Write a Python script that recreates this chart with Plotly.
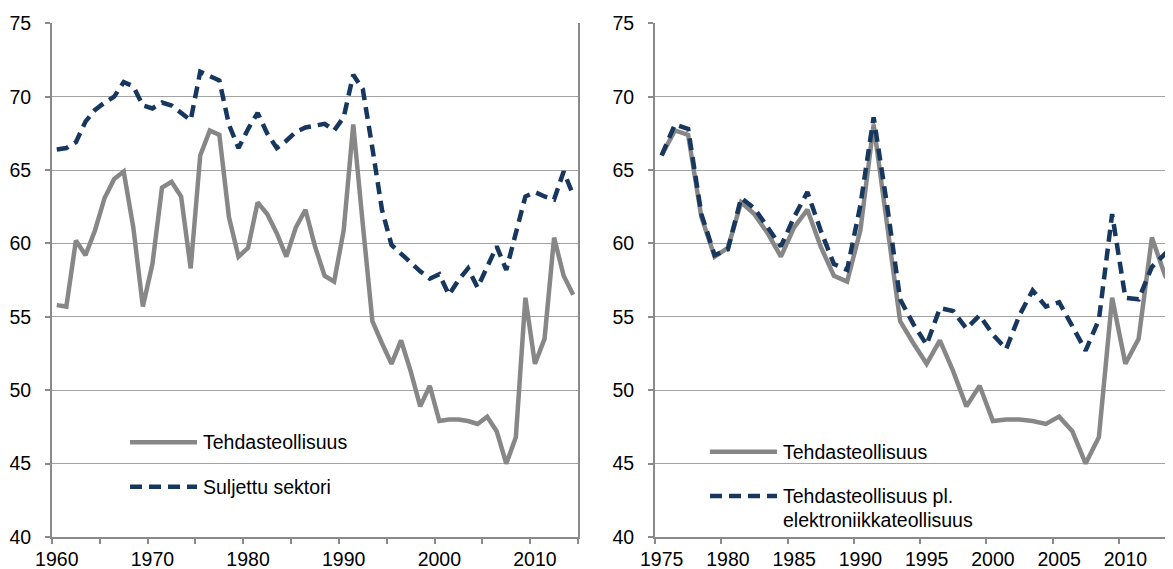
import plotly.graph_objects as go

# vuosiluokat
YEARS = list(range(1960, 2015))
YEARS_R = list(range(1975, 2015))

TEHDAS = [
    55.8, 55.7, 60.2, 59.2, 60.9, 63.1, 64.4, 64.9, 61.1, 55.7,
    58.6, 63.8, 64.2, 63.2, 58.3, 66.0, 67.7, 67.4, 61.8, 59.1,
    59.7, 62.8, 62.0, 60.7, 59.1, 61.1, 62.3, 59.8, 57.8, 57.4,
    60.9, 68.1, 61.3, 54.7, 53.2, 51.8, 53.4, 51.3, 48.9, 50.3,
    47.9, 48.0, 48.0, 47.9, 47.7, 48.2, 47.2, 45.0, 46.8, 56.3,
    51.8, 53.5, 60.4, 57.8, 56.5,
]
SULJETTU = [
    66.4, 66.5, 66.9, 68.3, 69.1, 69.6, 70.0, 71.0, 70.7, 69.4,
    69.2, 69.6, 69.4, 68.9, 68.4, 71.7, 71.4, 71.1, 68.1, 66.5,
    67.8, 68.9, 67.5, 66.5, 67.0, 67.6, 67.9, 68.05, 68.15, 67.7,
    68.6, 71.5, 70.5, 66.5, 62.3, 59.9, 59.3, 58.6, 58.1, 57.6,
    57.9, 56.5, 57.5, 58.3, 57.0, 58.4, 59.8, 58.2, 60.7, 63.2,
    63.5, 63.2, 63.0, 64.9, 63.3,
]
PL_ELEKTRO = [
    66.0, 68.1, 67.8, 62.0, 59.2, 59.6, 63.1, 62.4, 61.1, 59.8,
    61.8, 63.5, 60.9, 58.6, 58.2, 62.6, 68.6, 62.7, 56.2, 54.5,
    53.1, 55.6, 55.4, 54.2, 55.1, 53.8, 52.8, 55.1, 56.8, 55.7,
    56.0, 54.4, 52.7, 54.8, 62.0, 56.3, 56.2, 58.4, 59.3, 58.8,
]

Y_TICKS = [40, 45, 50, 55, 60, 65, 70, 75]
X_LABELS_L = [1960, 1970, 1980, 1990, 2000, 2010]
X_LABELS_R = [1975, 1980, 1985, 1990, 1995, 2000, 2005, 2010]

# sivun marginaali 8 px -> kuva pienemmaksi
OFF = 8
W, H = 1173 - OFF, 569 - OFF
_GRAY = "#878787"
_NAVY = "#17375E"
_AXIS = "#8a8a8a"
_GRID = "#a3a3a3"
_FONT = "Arial, 'Liberation Sans', sans-serif"
_FS = 19.5
_DASH = "12px,7px"


def fx(p):
    return (p - OFF) / W


def fy(p):
    return 1 - (p - OFF) / H


fig = go.Figure()
fig.add_trace(go.Scatter(x=YEARS, y=TEHDAS, mode="lines", name="Tehdasteollisuus",
                         line=dict(color=_GRAY, width=4.5), xaxis="x", yaxis="y"))
fig.add_trace(go.Scatter(x=YEARS, y=SULJETTU, mode="lines", name="Suljettu sektori",
                         line=dict(color=_NAVY, width=4.5, dash=_DASH), xaxis="x", yaxis="y"))
fig.add_trace(go.Scatter(x=YEARS_R, y=TEHDAS[15:], mode="lines", name="Tehdasteollisuus",
                         line=dict(color=_GRAY, width=4.5), xaxis="x2", yaxis="y2"))
fig.add_trace(go.Scatter(x=YEARS_R, y=PL_ELEKTRO, mode="lines",
                         name="Tehdasteollisuus pl. elektroniikkateollisuus",
                         line=dict(color=_NAVY, width=4.5, dash=_DASH), xaxis="x2", yaxis="y2"))


def _xaxis(dom, rng, labels, bounds):
    return dict(
        domain=dom, range=rng, tickmode="array", tickvals=labels,
        ticks="", showgrid=False, zeroline=False, showline=True,
        linecolor=_AXIS, linewidth=2, ticklabelstandoff=4, automargin=False,
        tickfont=dict(size=_FS, color="#000"),
        minor=dict(tickmode="array", tickvals=bounds, ticks="outside",
                   ticklen=5, tickwidth=1.5, tickcolor=_AXIS, showgrid=False),
    )


def _yaxis(anchor, mirror):
    return dict(
        domain=[fy(537), fy(23.3)], range=[40, 75], tickmode="array", tickvals=Y_TICKS,
        ticks="outside", ticklen=5, tickwidth=1.5, tickcolor=_AXIS,
        showgrid=True, gridcolor=_GRID, gridwidth=1.4, zeroline=False,
        showline=True, linecolor=_AXIS, linewidth=2, mirror=mirror,
        anchor=anchor, ticklabelstandoff=10, automargin=False,
        tickfont=dict(size=_FS, color="#000"),
    )


bounds_l = [1959.5 + 5 * k for k in range(12)]
bounds_r = [1974.5 + 5 * k for k in range(9)]
right_end = 1974.5 + (1173 - 655) / 13.25

fig.update_layout(
    width=W, height=H,
    paper_bgcolor="white", plot_bgcolor="white",
    font=dict(family=_FONT, size=_FS, color="#000"),
    margin=dict(l=0, r=0, t=0, b=0, autoexpand=False),
    showlegend=False,
    xaxis=_xaxis([fx(52), fx(578)], [1959.5, 2014.5], X_LABELS_L, bounds_l) | dict(anchor="y"),
    yaxis=_yaxis("x", True),
    xaxis2=_xaxis([fx(655), 1.0], [1974.5, right_end], X_LABELS_R, bounds_r) | dict(anchor="y2"),
    yaxis2=_yaxis("x2", False),
)

# selitteet
shapes = [
    dict(type="rect", xref="paper", yref="paper", layer="between",
         x0=fx(70), x1=fx(410), y0=fy(525), y1=fy(405),
         fillcolor="white", line=dict(width=0)),
    dict(type="rect", xref="paper", yref="paper", layer="between",
         x0=fx(657), x1=fx(1027), y0=fy(532), y1=fy(410),
         fillcolor="white", line=dict(width=0)),
    dict(type="line", xref="paper", yref="paper", x0=fx(130), x1=fx(197),
         y0=fy(442.3), y1=fy(442.3), line=dict(color=_GRAY, width=4.5)),
    dict(type="line", xref="paper", yref="paper", x0=fx(130), x1=fx(197),
         y0=fy(486.7), y1=fy(486.7), line=dict(color=_NAVY, width=4.5, dash=_DASH)),
    dict(type="line", xref="paper", yref="paper", x0=fx(710), x1=fx(777),
         y0=fy(451.7), y1=fy(451.7), line=dict(color=_GRAY, width=4.5)),
    dict(type="line", xref="paper", yref="paper", x0=fx(710), x1=fx(777),
         y0=fy(496), y1=fy(496), line=dict(color=_NAVY, width=4.5, dash=_DASH)),
]
labels = [
    (201, 442.3, "Tehdasteollisuus"),
    (201, 486.7, "Suljettu sektori"),
    (781, 451.7, "Tehdasteollisuus"),
    (781, 496, "Tehdasteollisuus pl."),
    (781, 519.5, "elektroniikkateollisuus"),
]
for x, y, t in labels:
    fig.add_annotation(x=fx(x), y=fy(y), xref="paper", yref="paper", text=t,
                       showarrow=False, xanchor="left", yanchor="middle",
                       font=dict(size=_FS, color="#000"))
fig.update_layout(shapes=shapes)

fig.write_html("out.html")
